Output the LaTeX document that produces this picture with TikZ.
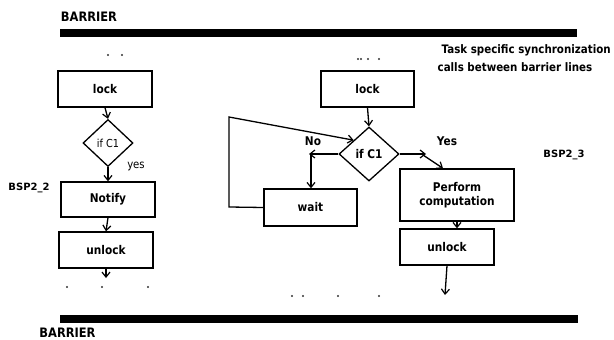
\documentclass[tikz,border=0pt]{standalone}
\usepackage{fontspec}
\setmainfont{DejaVu Sans}[FakeStretch=0.88]
\newfontfamily\plainsans{DejaVu Sans}
\usetikzlibrary{arrows.meta,shapes.geometric}
\begin{document}
\begin{tikzpicture}[x=1pt,y=-1pt,line width=1.3pt,
  lbl/.style={font=\bfseries\fontsize{12}{13}\selectfont, inner sep=0},
  lbln/.style={font=\fontsize{11.5}{13}\selectfont, inner sep=0},
  bsp/.style={font=\plainsans\bfseries\fontsize{10}{11}\selectfont, inner sep=0},
  box/.style={draw, rectangle, inner sep=0, align=center, font=\bfseries\fontsize{12}{13.5}\selectfont},
  dia/.style={draw, diamond, aspect=1, inner sep=0},
  arr/.style={-{Straight Barb[length=5pt,width=8pt,line width=1.2pt]}},
  bar/.style={fill=black},
  dot/.style={fill=black!80}]
\useasboundingbox (0,0) rectangle (614,340);
% barriers
\fill[bar] (60,29) rectangle (577,37);
\fill[bar] (60,315) rectangle (578,323);
\node[lbl, font=\bfseries\fontsize{13}{14}\selectfont] (bt) at (89,17) {BARRIER};
\node[lbl, font=\bfseries\fontsize{13}{14}\selectfont] (bb) at (67.5,333) {BARRIER};
\node[lbl, anchor=west, font=\bfseries\fontsize{11.7}{13}\selectfont] (t1) at (441,50) {Task specific synchronization};
\node[lbl, anchor=west, font=\bfseries\fontsize{11.7}{13}\selectfont] (t2) at (437,67) {calls between barrier lines};
\node[bsp] (b22) at (29,188) {BSP2\_2};
\node[bsp] (b23) at (564,155) {BSP2\_3};
% left column
\node[box, minimum width=94pt, minimum height=36pt] (lockL) at (105,89) {lock};
\node[dia, minimum width=50pt, minimum height=47pt, font=\fontsize{11}{12}\selectfont] (dL) at (108,143) {if C1};
\node[box, minimum width=94pt, minimum height=35pt] (notify) at (108,199.5) {Notify};
\node[box, minimum width=94pt, minimum height=36pt] (unlockL) at (106,250) {unlock};
\coordinate (endL) at (106,278);
\node[lbln] (yes) at (136,166) {yes};
\draw[arr] (lockL.south) -- (dL.north);
\draw[arr] (dL.south) -- (notify.north);
\draw[arr] (notify.south) -- (unlockL.north);
\draw[arr] (unlockL.south) -- (endL);
% right column
\node[box, minimum width=93pt, minimum height=36pt] (lockR) at (367.5,89) {lock};
\node[dia, minimum width=60pt, minimum height=54pt, font=\bfseries\fontsize{12}{13}\selectfont] (dR) at (369,154) {if C1};
\node[box, minimum width=93pt, minimum height=37pt] (wait) at (310.5,207.5) {wait};
\node[box, minimum width=114pt, minimum height=52pt] (perf) at (457,195) {Perform\\computation};
\node[box, minimum width=94pt, minimum height=36pt] (unlockR) at (447,247) {unlock};
\node[lbl] (no) at (313,141) {No};
\node[lbl] (yesR) at (447,141) {Yes};
\coordinate (noEnd) at (309,154);
\coordinate (noTurn) at (311,154);
\coordinate (loopA) at (229,207);
\coordinate (loopB) at (229,117);
\coordinate (yesEnd) at (426,154);
\coordinate (yesStart) at (423,155);
\coordinate (endR) at (445,295);
\draw[arr] (lockR.south) -- (dR.north);
\draw[arr] (dR.west) -- (noEnd);
\draw[arr] (noTurn) -- (wait.north -| noTurn);
\draw[arr] (wait.west) -- (loopA) -- (loopB) -- (dR.north west);
\draw[arr] (dR.east) -- (yesEnd);
\draw[arr] (yesStart) -- ([xshift=-14pt]perf.north);
\draw[arr] (perf.south) -- (perf.south |- unlockR.north);
\draw[arr] (unlockR.south) -- (endR);
% dots
\foreach \x/\y in {108/55,122/55,358/59,361/59,368/59,379/59,67/287,102/287,148/287,292/296,303/296,338/296,379/296}
  \fill[dot] (\x,\y) circle (1.1pt);
\end{tikzpicture}
\end{document}
